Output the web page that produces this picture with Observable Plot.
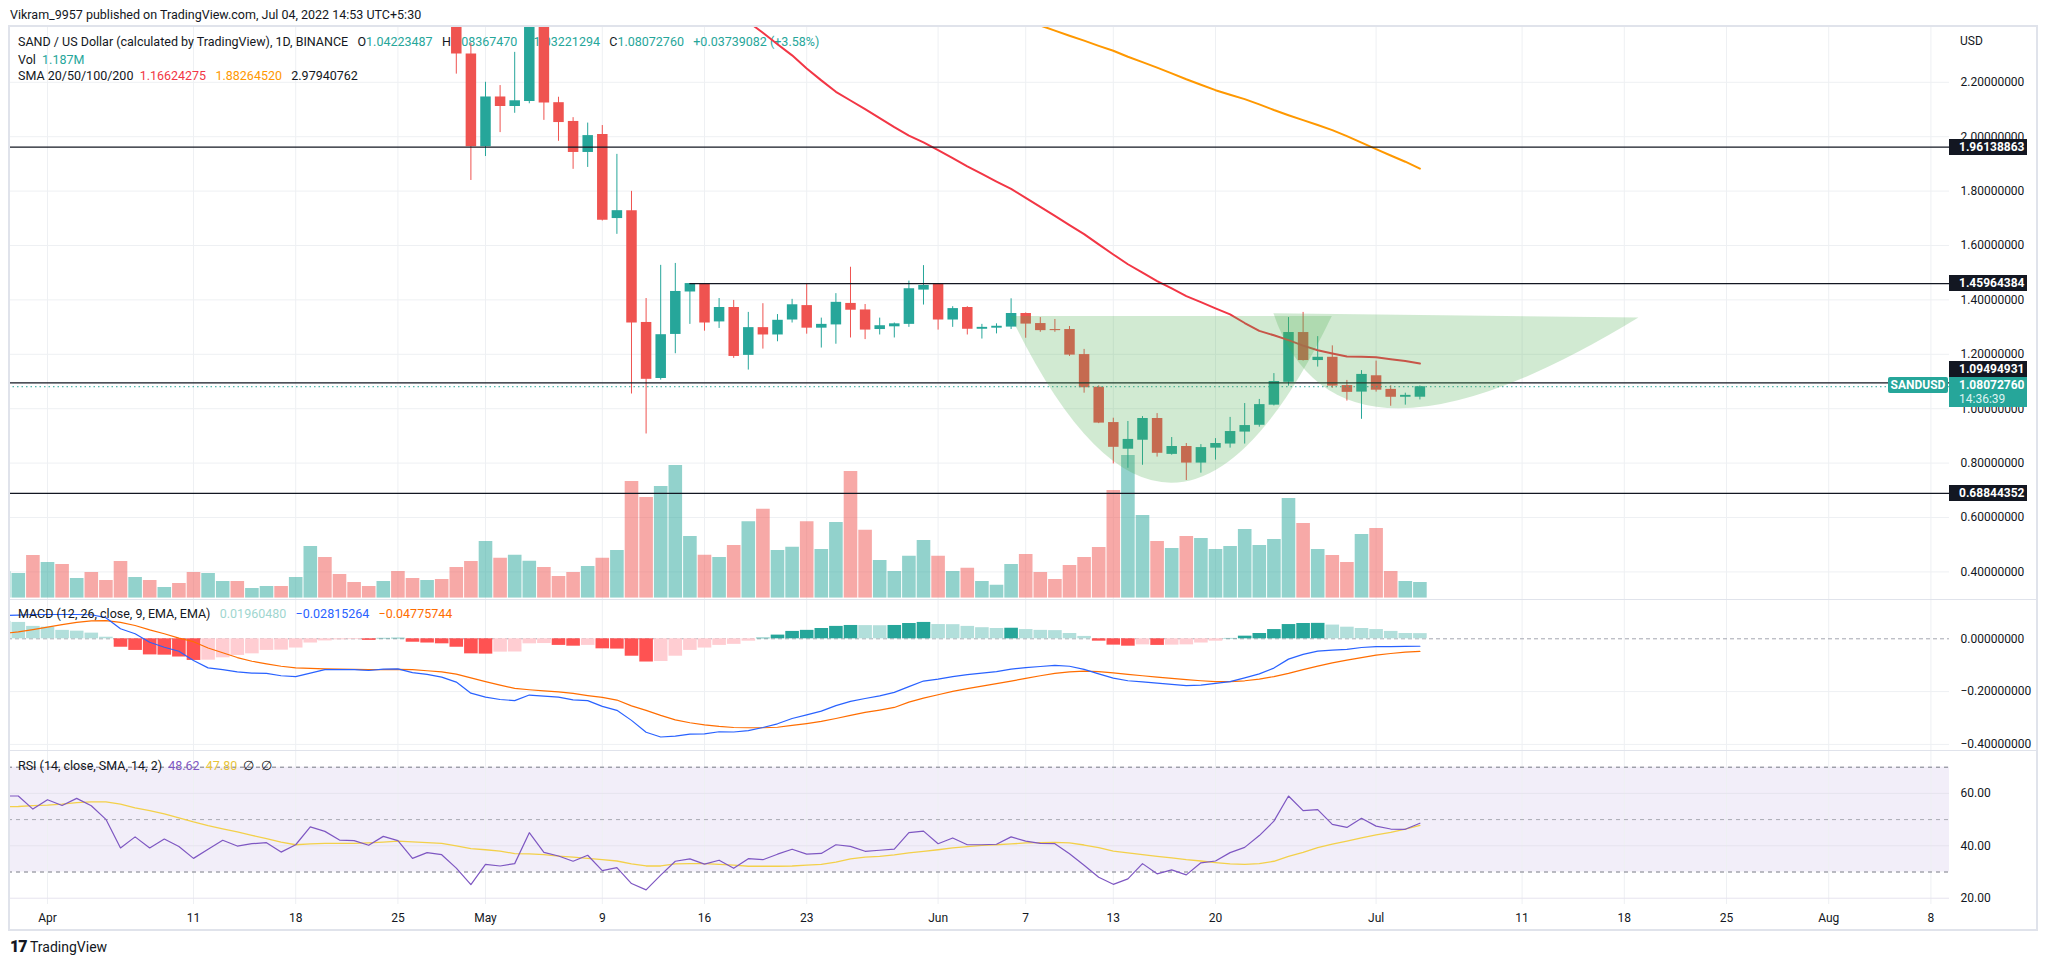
<!DOCTYPE html>
<html><head><meta charset="utf-8">
<script src="https://cdn.jsdelivr.net/npm/d3@7"></script>
<script src="https://cdn.jsdelivr.net/npm/@observablehq/plot@0.6"></script>
<style>
html,body{margin:0;padding:0;background:#fff;overflow:hidden}
#root{position:relative;width:2047px;height:966px;overflow:hidden;background:#fff;font-family:Roboto,"Noto Sans",sans-serif;color:#131722}
</style></head><body><div id="root"></div>
<script>
// ---------------- DATA ----------------
const seriesStart = "2022-03-29";           // first day of volume / MACD / RSI series
const volumes = [2.00,1.87,3.23,2.70,2.55,1.49,1.95,1.34,2.78,1.57,1.34,0.81,1.11,1.95,1.87,1.27,1.27,0.73,0.89,0.89,1.57,3.92,3.08,1.80,1.19,0.89,1.27,2.02,1.49,1.34,1.42,2.33,2.78,4.30,3.02,3.25,2.79,2.32,1.65,1.95,2.41,3.02,3.62,8.84,7.63,8.47,10.06,4.67,3.25,3.08,4.00,5.80,6.73,3.62,3.86,5.80,3.68,5.74,9.60,5.14,2.86,2.03,3.17,4.38,3.17,2.03,2.26,1.27,0.98,2.55,3.31,1.95,1.42,2.48,3.08,3.84,8.16,10.81,6.27,4.30,3.77,4.67,4.52,3.69,3.92,5.20,3.99,4.45,7.55,5.66,3.69,3.23,2.70,4.83,5.28,2.02,1.27,1.187];
const volumeDirs = ["u","u","d","u","d","u","d","d","d","u","d","u","d","d","u","u","d","u","u","d","u","u","d","d","d","d","u","d","d","u","d","d","d","u","d","u","u","d","d","d","u","d","u","d","d","u","u","u","d","u","d","u","d","u","u","d","u","u","d","d","u","u","u","u","d","u","d","u","u","u","d","d","d","d","d","d","d","u","u","d","u","d","u","u","u","u","u","u","u","d","u","d","d","u","d","d","u","u"];

const candleStart = "2022-04-29";
const opens  = [2.45,2.304,1.963,2.146,2.111,2.129,2.44,2.125,2.056,1.942,2.008,1.699,1.728,1.317,1.111,1.273,1.429,1.457,1.319,1.372,1.196,1.298,1.271,1.326,1.379,1.296,1.308,1.387,1.363,1.291,1.301,1.310,1.436,1.457,1.326,1.372,1.292,1.296,1.300,1.350,1.313,1.291,1.291,1.199,1.079,0.949,0.851,0.884,0.964,0.832,0.861,0.800,0.855,0.870,0.914,0.939,1.013,1.097,1.280,1.177,1.189,1.085,1.061,1.121,1.071,1.042,1.04223487];
const highs  = [2.50,2.343,2.200,2.188,2.310,2.48,2.47,2.145,2.070,2.050,2.041,1.935,1.799,1.405,1.527,1.534,1.460,1.460,1.405,1.398,1.354,1.386,1.346,1.402,1.460,1.333,1.423,1.520,1.383,1.333,1.315,1.469,1.526,1.460,1.375,1.375,1.310,1.312,1.404,1.352,1.335,1.328,1.302,1.218,1.084,0.965,0.953,0.971,0.982,0.894,0.872,0.868,0.890,0.968,1.019,1.034,1.129,1.335,1.354,1.265,1.231,1.104,1.140,1.175,1.084,1.057,1.08367470];
const lows   = [2.230,1.839,1.927,2.015,2.086,2.121,2.060,1.983,1.880,1.887,1.690,1.641,1.054,0.907,1.105,1.202,1.310,1.285,1.295,1.185,1.142,1.219,1.246,1.315,1.274,1.223,1.237,1.260,1.254,1.271,1.260,1.299,1.381,1.289,1.299,1.271,1.256,1.275,1.291,1.259,1.281,1.281,1.192,1.057,0.945,0.797,0.781,0.792,0.822,0.829,0.736,0.763,0.811,0.855,0.870,0.932,1.010,1.083,1.175,1.153,1.075,1.028,0.961,1.061,1.009,1.013,1.03221294];
const closes = [2.304,1.963,2.146,2.111,2.132,2.44,2.124,2.052,1.942,2.004,1.693,1.728,1.315,1.108,1.272,1.431,1.460,1.315,1.372,1.192,1.298,1.271,1.325,1.382,1.296,1.310,1.391,1.362,1.289,1.305,1.312,1.441,1.453,1.326,1.368,1.292,1.299,1.303,1.350,1.311,1.287,1.287,1.197,1.077,0.947,0.858,0.887,0.964,0.836,0.861,0.800,0.857,0.872,0.916,0.938,1.015,1.100,1.280,1.177,1.189,1.083,1.060,1.126,1.068,1.042,1.049,1.08072760];

const smaRedStart = "2022-05-19";
const smaRed = [2.422,2.382,2.340,2.299,2.251,2.207,2.165,2.133,2.101,2.068,2.035,2.004,1.979,1.951,1.921,1.891,1.863,1.835,1.808,1.775,1.742,1.709,1.675,1.642,1.604,1.567,1.531,1.500,1.469,1.442,1.414,1.392,1.369,1.347,1.315,1.286,1.270,1.252,1.232,1.215,1.203,1.192,1.191,1.189,1.182,1.175,1.16624275];
const smaOrangeStart = "2022-06-07";
const smaOrange = [2.428,2.409,2.390,2.371,2.353,2.334,2.316,2.294,2.274,2.254,2.233,2.211,2.191,2.171,2.154,2.138,2.119,2.098,2.079,2.061,2.043,2.024,2.002,1.978,1.954,1.931,1.908,1.88264520];

const levelPrices = [1.96138863, 1.45964384, 1.09494931, 0.68844352];
const levelStarts = ["2022-03-25", "2022-05-15", "2022-03-25", "2022-03-25"];

// cup & handle drawings: start, control, end anchors (date, price)
const cupDates  = ["2022-06-06", "2022-06-17", "2022-06-28"];
const cupPrices = [1.339, 0.113, 1.339];
const handleDates  = ["2022-06-24", "2022-06-28T09:00Z", "2022-07-19"];
const handlePrices = [1.349, 0.658, 1.333];

const macdHist = [0.066,0.062,0.047,0.044,0.032,0.029,0.0215,0.006,-0.032,-0.044,-0.061,-0.062,-0.069,-0.082,-0.081,-0.072,-0.063,-0.057,-0.044,-0.043,-0.035,-0.016,-0.008,-0.004,-0.003,-0.006,0.0015,0.002,-0.013,-0.016,-0.019,-0.032,-0.057,-0.058,-0.0505,-0.050,-0.019,-0.018,-0.025,-0.028,-0.025,-0.038,-0.039,-0.066,-0.088,-0.086,-0.066,-0.044,-0.035,-0.025,-0.021,-0.009,0.0025,0.014,0.028,0.032,0.039,0.047,0.0505,0.050,0.0495,0.0505,0.058,0.062,0.054,0.0535,0.047,0.042,0.039,0.040,0.035,0.032,0.031,0.020,0.009,-0.009,-0.024,-0.028,-0.023,-0.025,-0.024,-0.023,-0.016,-0.009,0.0013,0.010,0.020,0.035,0.054,0.058,0.0585,0.052,0.044,0.039,0.035,0.028,0.020,0.0196048];
const macdLine = [0.088,0.0896,0.092,0.092,0.092,0.092,0.091,0.080,0.038,0.019,-0.013,-0.032,-0.047,-0.082,-0.110,-0.117,-0.125,-0.130,-0.131,-0.140,-0.143,-0.130,-0.117,-0.117,-0.117,-0.120,-0.115,-0.114,-0.128,-0.135,-0.145,-0.164,-0.206,-0.221,-0.230,-0.234,-0.213,-0.217,-0.221,-0.231,-0.234,-0.256,-0.271,-0.309,-0.354,-0.372,-0.369,-0.361,-0.360,-0.352,-0.353,-0.348,-0.336,-0.322,-0.302,-0.288,-0.274,-0.253,-0.237,-0.226,-0.216,-0.203,-0.181,-0.160,-0.153,-0.143,-0.136,-0.130,-0.124,-0.115,-0.109,-0.105,-0.101,-0.104,-0.116,-0.133,-0.149,-0.159,-0.163,-0.168,-0.173,-0.177,-0.1755,-0.169,-0.162,-0.148,-0.133,-0.111,-0.077,-0.059,-0.047,-0.043,-0.040,-0.033,-0.030,-0.030,-0.029,-0.02815264];
const signalLine = [0.020,0.0265,0.035,0.044,0.054,0.062,0.068,0.069,0.062,0.0505,0.034,0.019,0.0025,-0.011,-0.035,-0.053,-0.071,-0.085,-0.095,-0.104,-0.110,-0.112,-0.114,-0.115,-0.116,-0.117,-0.117,-0.116,-0.117,-0.121,-0.125,-0.134,-0.148,-0.162,-0.1755,-0.188,-0.193,-0.197,-0.201,-0.207,-0.215,-0.222,-0.232,-0.254,-0.271,-0.290,-0.307,-0.318,-0.326,-0.332,-0.336,-0.337,-0.337,-0.335,-0.328,-0.321,-0.313,-0.302,-0.290,-0.279,-0.270,-0.260,-0.240,-0.225,-0.212,-0.199,-0.189,-0.179,-0.170,-0.160,-0.150,-0.140,-0.131,-0.125,-0.1225,-0.124,-0.129,-0.135,-0.140,-0.145,-0.150,-0.155,-0.159,-0.162,-0.162,-0.159,-0.153,-0.143,-0.131,-0.117,-0.1035,-0.091,-0.081,-0.071,-0.062,-0.0556,-0.0505,-0.04775744];

const rsi = [59.0,59.0,54.0,57.6,55.4,58.1,55.3,50.1,39.2,43.4,39.2,42.6,39.7,35.2,38.7,42.1,39.9,40.8,41.2,37.6,40.4,47.2,45.5,42.2,42.0,40.2,43.6,42.0,35.2,37.4,36.6,31.5,25.2,32.9,32.3,33.2,45.0,37.5,36.1,34.1,36.4,30.5,31.7,25.6,23.2,28.8,34.1,35.0,33.0,34.5,31.4,35.1,34.7,36.8,38.7,36.8,37.1,40.4,39.8,37.9,38.3,38.7,45.0,45.6,40.8,43.0,40.4,40.4,40.6,43.4,41.8,40.9,40.8,37.0,32.6,28.0,25.3,27.4,33.2,29.3,30.8,28.9,33.5,34.2,37.4,39.4,43.9,49.4,59.0,53.4,53.8,48.2,47.0,50.5,47.5,46.4,46.3,48.62];
const rsiMA = [54.9,55.0,55.3,55.5,55.9,56.5,56.8,56.8,55.9,54.5,53.4,52.2,50.7,49.1,47.7,46.5,45.3,44.0,42.7,41.4,40.4,40.7,40.9,40.9,40.9,41.1,41.4,41.8,41.5,41.2,40.9,40.0,38.9,38.5,38.0,37.0,36.9,36.6,36.1,35.7,35.2,34.7,34.2,33.1,32.3,32.3,33.1,33.2,33.2,32.9,32.6,32.2,32.2,32.2,32.3,32.6,32.9,33.8,35.0,35.7,36.0,36.5,37.3,37.9,38.5,39.2,39.7,40.2,40.4,40.7,41.1,41.2,41.3,41.1,40.3,39.3,38.0,37.3,36.6,36.0,35.4,34.7,34.2,33.6,33.1,32.9,33.2,34.1,36.0,37.5,39.3,40.6,41.8,43.0,44.2,45.1,46.4,47.80];

const priceTicks = [0.4,0.6,0.8,1.0,1.2,1.4,1.6,1.8,2.0,2.2];
const macdTicks = [0,-0.2,-0.4];
const rsiTicks = [60,40,20];
const tickDates  = ["2022-04-01","2022-04-11","2022-04-18","2022-04-25","2022-05-01","2022-05-09","2022-05-16","2022-05-23","2022-06-01","2022-06-07","2022-06-13","2022-06-20","2022-07-01","2022-07-11","2022-07-18","2022-07-25","2022-08-01","2022-08-08"];
const tickLabels = ["Apr","11","18","25","May","9","16","23","Jun","7","13","20","Jul","11","18","25","Aug","8"];

// ---------------- SETUP ----------------
const UP = "#26a69a", DOWN = "#ef5350", GRID = "#eef0f3", INK = "#131722";
const APR1 = Date.UTC(2022, 3, 1), DAY = 864e5;
const xDomain = [new Date(APR1 - 2.671 * DAY), new Date(APR1 + 130.274 * DAY)];
const W = 2047, ML = 8, MR = 98;
const dayAt = (s, i) => d3.utcDay.offset(new Date(s), i);
const ticksX = tickDates.map(s => new Date(s));
const labelOf = new Map(ticksX.map((d, i) => [+d, tickLabels[i]]));
const style = {fontFamily: "Roboto, 'Noto Sans', sans-serif", fontSize: "12px", color: INK, background: "transparent", overflow: "visible"};
const base = (h, extra = {}) => ({width: W, height: h, marginLeft: ML, marginRight: MR, marginTop: 0, marginBottom: 0,
  x: {type: "utc", domain: xDomain, axis: null}, color: {type: "identity"}, style, ...extra});

const root = document.getElementById("root");
function place(node, top) {
  const d = document.createElement("div");
  d.style.cssText = `position:absolute;left:0;top:${top}px;`;
  d.appendChild(node); root.appendChild(d); return node;
}
function html(tag, css, content) {
  const e = document.createElement(tag); e.style.cssText = css; e.innerHTML = content; root.appendChild(e); return e;
}
const T = (l, t, s, size = 12) => html("div", `position:absolute;left:${l}px;top:${t}px;white-space:nowrap;font-size:${size}px;line-height:14px;color:${INK}`, s);
const c = (col, s) => `<span style="color:${col}">${s}</span>`;

const series = volumes.map((v, i) => ({date: dayAt(seriesStart, i), v, dir: volumeDirs[i],
  hist: macdHist[i], macd: macdLine[i], signal: signalLine[i], rsi: rsi[i], rsiMA: rsiMA[i]}));
series.forEach((d, i) => {
  const p = i > 0 ? series[i - 1].hist : Infinity;
  d.histColor = d.hist >= 0 ? (d.hist > p ? "#26a69a" : "#b2dfdb") : (d.hist < p ? "#ff5252" : "#ffcdd2");
});
const candles = opens.map((o, i) => ({date: dayAt(candleStart, i), o, h: highs[i], l: lows[i], c: closes[i]}));
const red = smaRed.map((v, i) => ({date: dayAt(smaRedStart, i), v}));
const orange = smaOrange.map((v, i) => ({date: dayAt(smaOrangeStart, i), v}));
const levels = levelPrices.map((p, i) => ({p, start: new Date(levelStarts[i]), end: xDomain[1]}));
const lastClose = closes[closes.length - 1];

// ---------------- PRICE PANE ----------------
const PT = 26, PH = 573;
const yPrice = {domain: [0.2985, 2.4051], axis: null};
place(Plot.plot(base(PH, {y: yPrice, marks: [
  Plot.gridX(ticksX, {stroke: GRID, strokeOpacity: 1}),
  Plot.gridY(priceTicks, {stroke: GRID, strokeOpacity: 1}),
  Plot.axisY(priceTicks, {anchor: "right", tickSize: 0, tickPadding: 11, textAnchor: "start", tickFormat: d3.format(".8f"), fontSize: 12})
]})), PT);

// price legend sits under the candles, as in the reference
T(18, 35, `SAND / US Dollar (calculated by TradingView), 1D, BINANCE&nbsp;&nbsp; O${c(UP,"1.04223487")}&nbsp;&nbsp; H${c(UP,"1.08367470")}&nbsp;&nbsp; L${c(UP,"1.03221294")}&nbsp;&nbsp; C${c(UP,"1.08072760")}&nbsp;&nbsp; ${c(UP,"+0.03739082 (+3.58%)")}`, 12.5);
T(18, 53, `Vol&nbsp; ${c(UP,"1.187M")}`, 12.5);
T(18, 69, `SMA 20/50/100/200&nbsp; ${c("#f23645","1.16624275")}&nbsp;&nbsp; ${c("#ff9800","1.88264520")}&nbsp;&nbsp; 2.97940762`, 12.5);

place(Plot.plot(base(PH, {marginBottom: 1.3, y: {domain: [0, 43.31], axis: null}, marks: [
  Plot.ruleX(series, {x: "date", y1: 0, y2: "v", stroke: d => d.dir === "u" ? "rgba(38,166,154,0.5)" : "rgba(239,83,80,0.5)", strokeWidth: 13.6, clip: true})
]})), PT);

const front = place(Plot.plot(base(PH, {y: yPrice, marks: [
  Plot.ruleX(candles, {x: "date", y1: "l", y2: "h", stroke: d => d.c >= d.o ? UP : DOWN, strokeWidth: 1, clip: true}),
  Plot.ruleX(candles, {x: "date", y1: "o", y2: "c", stroke: d => d.c >= d.o ? UP : DOWN, strokeWidth: 10.5, clip: true}),
  Plot.line(red, {x: "date", y: "v", stroke: "#f23645", strokeWidth: 2, clip: true}),
  Plot.line(orange, {x: "date", y: "v", stroke: "#ff9800", strokeWidth: 2, clip: true}),
  Plot.ruleY([lastClose], {stroke: UP, strokeWidth: 1, strokeDasharray: "1.5 3"}),
  Plot.ruleY(levels, {y: "p", x1: "start", x2: "end", stroke: INK, strokeWidth: 1.3, clip: true})
]})), PT);

// cup & handle drawings (quadratic arcs through the library scales)
const sx = front.scale("x"), sy = front.scale("y");
function arc(dates, prices) {
  const pts = dates.map((d, i) => [sx.apply(new Date(d)), sy.apply(prices[i])]);
  const path = document.createElementNS("http://www.w3.org/2000/svg", "path");
  path.setAttribute("d", `M${pts[0]}Q${pts[1]} ${pts[2]}Z`);
  path.setAttribute("fill", "rgba(76,175,80,0.26)");
  front.appendChild(path);
}
arc(cupDates, cupPrices);
arc(handleDates, handlePrices);

// ---------------- MACD PANE ----------------
const MT = 599, MH = 151;
place(Plot.plot(base(MH, {y: {domain: [-0.4231, 0.14886], axis: null}, marks: [
  Plot.gridX(ticksX, {stroke: GRID, strokeOpacity: 1}),
  Plot.gridY([-0.2, -0.4], {stroke: GRID, strokeOpacity: 1}),
  Plot.ruleY([0], {stroke: "#a3a6af", strokeDasharray: "4 3", strokeWidth: 1}),
  Plot.ruleX(series, {x: "date", y1: 0, y2: "hist", stroke: "histColor", strokeWidth: 13.6, clip: true}),
  Plot.line(series, {x: "date", y: "signal", stroke: "#ff6d00", strokeWidth: 1.2, clip: true}),
  Plot.line(series, {x: "date", y: "macd", stroke: "#2962ff", strokeWidth: 1.2, clip: true}),
  Plot.axisY(macdTicks, {anchor: "right", tickSize: 0, tickPadding: 11, textAnchor: "start", tickFormat: d3.format(".8f"), fontSize: 12})
]})), MT);

// ---------------- RSI PANE ----------------
const RT = 750, RH = 180;
place(Plot.plot(base(RH, {marginBottom: 26, y: {domain: [17.6, 76.37], axis: null}, marks: [
  Plot.rect([{a: xDomain[0], b: xDomain[1]}], {x1: "a", x2: "b", y1: 30, y2: 70, fill: "rgba(126,87,194,0.1)"}),
  Plot.gridX(ticksX, {stroke: GRID, strokeOpacity: 1}),
  Plot.gridY(rsiTicks, {stroke: "#e6e3ee", strokeOpacity: 1}),
  Plot.ruleY([70, 30], {stroke: "#787b86", strokeDasharray: "4 4", strokeWidth: 1}),
  Plot.ruleY([50], {stroke: "#a9abb3", strokeDasharray: "4 4", strokeWidth: 1}),
  Plot.line(series, {x: "date", y: "rsiMA", stroke: "#f3d04a", strokeWidth: 1.3, clip: true}),
  Plot.line(series, {x: "date", y: "rsi", stroke: "#7e57c2", strokeWidth: 1.2, clip: true}),
  Plot.axisY(rsiTicks, {anchor: "right", tickSize: 0, tickPadding: 11, textAnchor: "start", tickFormat: d3.format(".2f"), fontSize: 12}),
  Plot.axisX(ticksX, {anchor: "bottom", tickSize: 0, tickPadding: 9, tickFormat: d => labelOf.get(+d), fontSize: 12})
]})), RT);

// ---------------- FRAME & SEPARATORS ----------------
html("div", "position:absolute;left:8px;top:25px;width:2030px;height:906px;border:2px solid #e0e3eb;box-sizing:border-box;pointer-events:none", "");
html("div", "position:absolute;left:9px;top:599px;width:2028px;height:1px;background:#e0e3eb", "");
html("div", "position:absolute;left:9px;top:750px;width:2028px;height:1px;background:#e0e3eb", "");

// ---------------- PRICE AXIS BOXES ----------------
function box(price, bg, content, topOverride) {
  const y = PT + sy.apply(price);
  const top = topOverride ?? (y - 8);
  html("div", `position:absolute;left:1949px;top:${top}px;width:78px;background:${bg};color:#fff;font-size:12px;font-weight:bold;line-height:16px;padding-left:10px;box-sizing:border-box`, content);
  return top;
}
box(levelPrices[0], INK, "1.96138863");
box(levelPrices[1], INK, "1.45964384");
box(levelPrices[3], INK, "0.68844352");
const tealTop = PT + sy.apply(lastClose) - 9;
html("div", `position:absolute;left:1949px;top:${tealTop}px;width:78px;height:30px;background:${UP};color:#fff;font-size:12px;line-height:14px;padding:1px 0 0 10px;box-sizing:border-box`, "<b>1.08072760</b><br><span style='color:#dff3f1'>14:36:39</span>");
box(levelPrices[2], INK, "1.09494931", tealTop - 16);
html("div", `position:absolute;left:1888px;top:${tealTop}px;width:60px;height:16px;background:${UP};color:#fff;font-size:12px;font-weight:bold;line-height:16px;text-align:center;border-radius:2px`, "SANDUSD");

// ---------------- OTHER TEXTS ----------------
T(10, 8, "Vikram_9957 published on TradingView.com, Jul 04, 2022 14:53 UTC+5:30", 12.5);
T(1960, 34, "USD", 12);
T(18, 607, `MACD (12, 26, close, 9, EMA, EMA)&nbsp;&nbsp; ${c("#9fd6cf","0.01960480")}&nbsp;&nbsp; ${c("#2962ff","−0.02815264")}&nbsp;&nbsp; ${c("#ff6d00","−0.04775744")}`, 12.5);
T(18, 759, `RSI (14, close, SMA, 14, 2)&nbsp; ${c("#7e57c2","48.62")}&nbsp; ${c("#e8c53a","47.80")}&nbsp; ∅&nbsp; ∅`, 12.5);
T(10, 940, `<b style="font-size:16px;letter-spacing:-1px;font-weight:900">17</b>&nbsp;TradingView`, 14);
</script></body></html>
